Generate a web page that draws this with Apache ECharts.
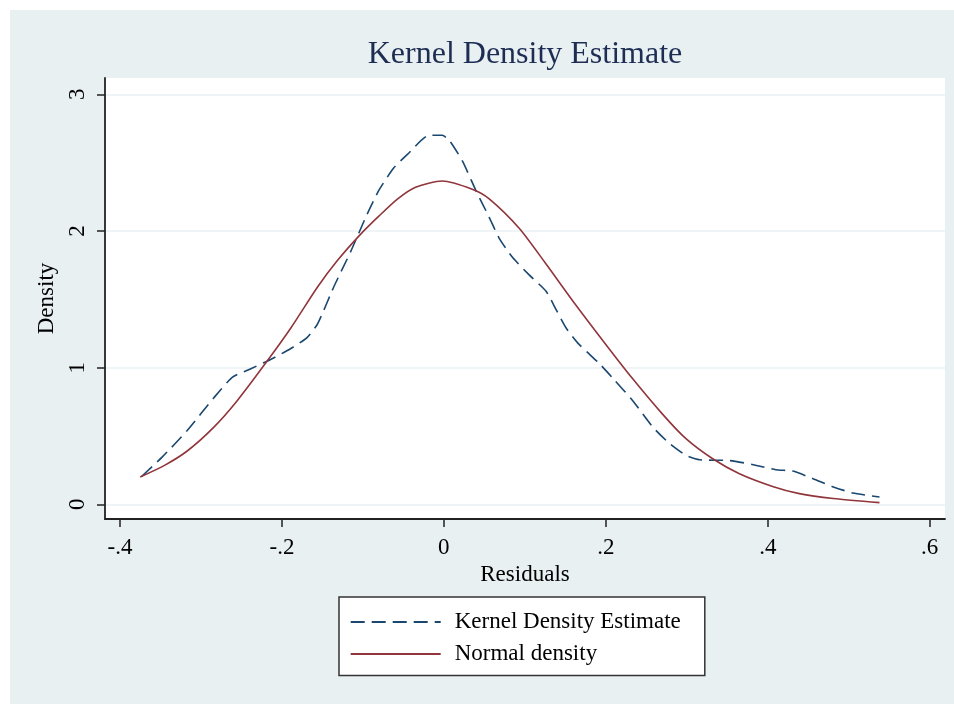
<!DOCTYPE html>
<html>
<head>
<meta charset="utf-8">
<script src="https://cdn.jsdelivr.net/npm/echarts@6/dist/echarts.min.js"></script>
<style>html,body{margin:0;padding:0;background:#fff;}#chart{width:954px;height:704px;}</style>
</head>
<body>
<div id="chart"></div>
<script>
// Kernel density estimate (dashed)
var kdeX = [-0.373,-0.348,-0.317,-0.284,-0.261,-0.239,-0.214,-0.189,-0.169,-0.156,-0.136,-0.115,-0.095,-0.080,-0.062,-0.045,-0.018,-0.002,0.007,0.023,0.040,0.056,0.068,0.085,0.105,0.126,0.139,0.151,0.167,0.192,0.209,0.233,0.258,0.279,0.299,0.316,0.353,0.382,0.410,0.431,0.456,0.481,0.505,0.538];
var kdeY = [0.205,0.345,0.54,0.78,0.93,0.99,1.06,1.14,1.22,1.32,1.59,1.85,2.12,2.30,2.46,2.56,2.70,2.70,2.66,2.51,2.29,2.10,1.95,1.805,1.68,1.56,1.42,1.29,1.17,1.03,0.92,0.76,0.565,0.443,0.358,0.326,0.32,0.29,0.253,0.243,0.187,0.127,0.083,0.053];
// Normal density (solid)
var normX = [-0.375,-0.345,-0.317,-0.284,-0.255,-0.218,-0.189,-0.156,-0.132,-0.103,-0.080,-0.057,-0.035,-0.002,0.035,0.056,0.093,0.126,0.159,0.200,0.233,0.270,0.299,0.332,0.365,0.406,0.439,0.481,0.538];
var normY = [0.20,0.285,0.39,0.565,0.76,1.05,1.29,1.59,1.78,1.975,2.11,2.235,2.32,2.365,2.305,2.235,2.02,1.76,1.49,1.17,0.92,0.66,0.48,0.333,0.224,0.131,0.078,0.042,0.012];
// Tick labels
var xTickValues = [-0.4,-0.2,0,0.2,0.4,0.6];
var xTickLabels = ['-.4','-.2','0','.2','.4','.6'];
var yTickValues = [0,1,2,3];
var yTickLabels = ['0','1','2','3'];
var seriesNames = ['Kernel Density Estimate','Normal density'];
var chartTitle = 'Kernel Density Estimate';
var xTitle = 'Residuals';
var yTitle = 'Density';

var FONT = '"Liberation Serif", "Times New Roman", serif';
function pairs(xs, ys){ return xs.map(function(x,i){ return [x, ys[i]]; }); }
function lookup(vals, labels){
  return function(v){
    for (var i=0;i<vals.length;i++){ if (Math.abs(vals[i]-v) < 1e-9) return labels[i]; }
    return '';
  };
}

var chart = echarts.init(document.getElementById('chart'), null, {renderer:'canvas'});
chart.setOption({
  backgroundColor: '#ffffff',
  animation: false,
  graphic: [{
    type: 'rect', z: -100, silent: true,
    shape: {x: 10, y: 10, width: 944, height: 694},
    style: {fill: '#e8f0f2'}
  }],
  title: {
    text: chartTitle,
    left: 525, top: 39, padding: 0,
    textAlign: 'center', textVerticalAlign: 'top',
    textStyle: {fontFamily: FONT, fontSize: 32, fontWeight: 'normal', color: '#1e2d53'}
  },
  grid: {
    left: 105, right: 9, top: 78, bottom: 185,
    show: true, backgroundColor: '#ffffff', borderWidth: 0,
    containLabel: false, outerBoundsMode: 'none'
  },
  xAxis: {
    type: 'value',
    min: -0.4185, max: 0.6189,
    name: xTitle, nameLocation: 'middle', nameGap: 41,
    nameTextStyle: {fontFamily: FONT, fontSize: 23, color: '#000'},
    axisLine: {show: true, onZero: false, lineStyle: {color: '#222', width: 1.8}},
    axisTick: {show: true, length: 8, customValues: xTickValues, lineStyle: {color: '#222', width: 1.5}},
    axisLabel: {customValues: xTickValues, margin: 17, formatter: lookup(xTickValues, xTickLabels),
      fontFamily: FONT, fontSize: 23, color: '#000'},
    splitLine: {show: false}
  },
  yAxis: {
    type: 'value',
    min: -0.1075, max: 3.119,
    name: yTitle, nameLocation: 'middle', nameGap: 42,
    nameTextStyle: {fontFamily: FONT, fontSize: 23, color: '#000'},
    axisLine: {show: true, onZero: false, lineStyle: {color: '#222', width: 1.8}},
    axisTick: {show: true, length: 8, customValues: yTickValues, lineStyle: {color: '#222', width: 1.5}},
    axisLabel: {customValues: yTickValues, rotate: 90, margin: 16, formatter: lookup(yTickValues, yTickLabels),
      fontFamily: FONT, fontSize: 23, color: '#000'},
    splitLine: {show: true, lineStyle: {color: '#eaf2f3', width: 1.5}}
  },
  legend: {
    orient: 'vertical',
    left: 339, top: 597,
    padding: [13.5, 24, 10, 10.7],
    itemGap: 9,
    itemWidth: 90, itemHeight: 14,
    backgroundColor: '#ffffff',
    borderColor: '#333333', borderWidth: 1.5,
    itemStyle: {opacity: 0},
    textStyle: {fontFamily: FONT, fontSize: 23, color: '#000', padding: [0,0,0,9]},
    data: seriesNames
  },
  series: [{
    name: seriesNames[0],
    type: 'line',
    data: pairs(kdeX, kdeY),
    symbol: 'none', showSymbol: false,
    smooth: 0.2,
    lineStyle: {color: '#1a476f', width: 1.6, type: [14, 7]},
    itemStyle: {color: '#1a476f'}
  }, {
    name: seriesNames[1],
    type: 'line',
    data: pairs(normX, normY),
    symbol: 'none', showSymbol: false,
    smooth: 0.25,
    lineStyle: {color: '#90353b', width: 1.6, type: 'solid'},
    itemStyle: {color: '#90353b'}
  }]
});
</script>
</body>
</html>
